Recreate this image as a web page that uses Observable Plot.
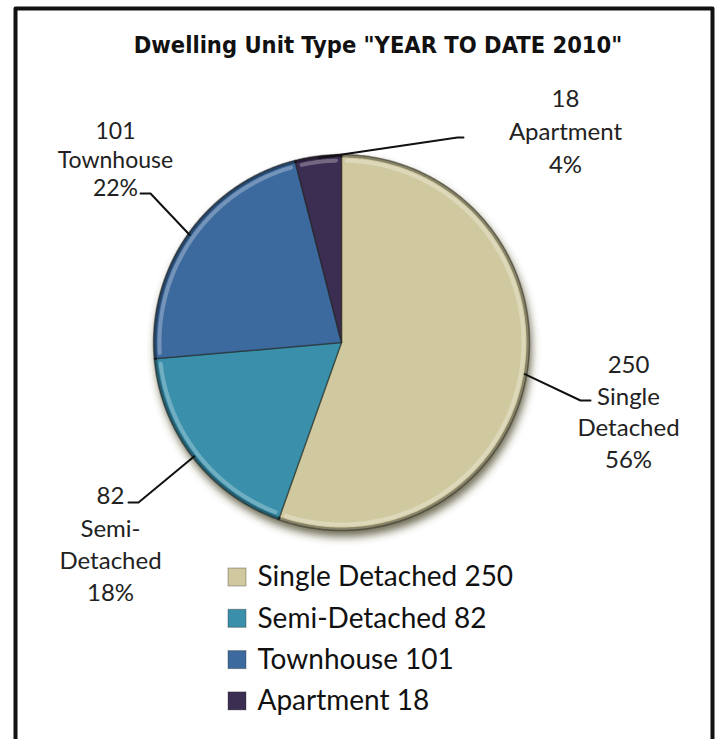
<!DOCTYPE html>
<html><head><meta charset="utf-8">
<script src="https://cdn.jsdelivr.net/npm/d3@7"></script>
<script src="https://cdn.jsdelivr.net/npm/@observablehq/plot@0.6"></script>
<style>
html,body{margin:0;padding:0;background:#fff;overflow:hidden}
#chart svg{display:block}
</style></head><body><div id="chart"></div>
<script>
// ---- data ----
const categories = ["Single Detached", "Semi-Detached", "Townhouse", "Apartment"];
const values = [250, 82, 101, 18];
const percentLabels = ["56%", "18%", "22%", "4%"];
const labelNames = [["Single", "Detached"], ["Semi-", "Detached"], ["Townhouse"], ["Apartment"]];
const colors = ["#d0c9a0", "#3a8faa", "#3d6a9e", "#3c2e53"];
const title = 'Dwelling Unit Type "YEAR TO DATE 2010"';

// ---- layout ----
const W = 719, H = 739;
const cx = 341, cy = 342, R = 188;
const labelLayout = {
  "Single Detached": {x: 628, y: 410, size: 24, lh: 1.32, elbow: [580, 400], end: [590, 400]},
  "Semi-Detached":   {x: 110, y: 542, size: 24, lh: 1.35, elbow: [138, 502], end: [128, 502]},
  "Townhouse":       {x: 115, y: 158, size: 23, lh: 1.24, elbow: [150, 193], end: [140, 193]},
  "Apartment":       {x: 565, y: 129, size: 24, lh: 1.375, elbow: [457, 137], end: [463, 137]}
};
const legendX = 228, legendY0 = 577, legendGap = 41.3, swatch = 18;

// ---- derived geometry ----
const table = categories.map((c, i) => ({cat: c, value: values[i], pct: percentLabels[i], name: labelNames[i]}));
const arcs = d3.pie().sort(null).value(d => d.value).startAngle(0).endAngle(2 * Math.PI)(table);
const pt = (a, r) => [cx + r * Math.sin(a), cy - r * Math.cos(a)];
const slicePts = [], rimPts = [], glowPts = [], leaderPts = [];
arcs.forEach(a => {
  const cat = a.data.cat;
  const n = Math.max(4, Math.ceil((a.endAngle - a.startAngle) / 0.01));
  slicePts.push({cat, x: cx, y: cy});
  for (let k = 0; k <= n; k++) {
    const t = a.startAngle + (a.endAngle - a.startAngle) * k / n;
    const [x, y] = pt(t, R);
    slicePts.push({cat, x, y});
    const [x2, y2] = pt(t, R - 1.5);
    rimPts.push({cat, x: x2, y: y2});
  }
  slicePts.push({cat, x: cx, y: cy});
  const m = 0.03;
  for (let k = 0; k <= n; k++) {
    const t = a.startAngle + m + (a.endAngle - a.startAngle - 2 * m) * k / n;
    const [x, y] = pt(t, R - 6);
    glowPts.push({cat, x, y});
  }
  const mid = (a.startAngle + a.endAngle) / 2;
  const L = labelLayout[cat];
  const [sx, sy] = pt(mid, R - 2);
  leaderPts.push({cat, x: sx, y: sy}, {cat, x: L.elbow[0], y: L.elbow[1]}, {cat, x: L.end[0], y: L.end[1]});
});

const labelFont = "Lato, Carlito, 'Open Sans', sans-serif";

const marks = [
  // outer frame (bottom edge runs off the picture)
  Plot.line([[15, H + 20], [15, 8], [712, 8], [712, H + 20]], {x: d => d[0], y: d => d[1], stroke: "#111", strokeWidth: 4}),
  Plot.text([title], {x: W / 2 + 18, y: 45, text: d => d, fontSize: 23.5, fontWeight: "bold",
    fontFamily: "'Liberation Sans Narrow', 'Arial Narrow', 'DejaVu Sans Condensed', sans-serif", fill: "#111"}),
  // shadow under the pie
  Plot.dot([0], {x: () => cx + 2, y: () => cy + 6, r: R, fill: "#3f3a18", fillOpacity: 0.75}),
  // slices
  Plot.line(slicePts, {x: "x", y: "y", z: "cat", fill: "cat", stroke: "#1c1a10", strokeOpacity: 0.45, strokeWidth: 1.5, strokeLinejoin: "round"}),
  Plot.line(rimPts, {x: "x", y: "y", z: "cat", stroke: "#000", strokeOpacity: 0.35, strokeWidth: 3}),
  Plot.line(glowPts, {x: "x", y: "y", z: "cat", stroke: "#fff", strokeOpacity: 0.28, strokeWidth: 4}),
  // leader lines
  Plot.line(leaderPts, {x: "x", y: "y", z: "cat", stroke: "#111", strokeWidth: 2}),
  // data labels
  ...table.map(d => {
    const L = labelLayout[d.cat];
    return Plot.text([d], {x: () => L.x, y: () => L.y, text: t => [String(t.value), ...t.name, t.pct].join("\n"),
      fontSize: L.size, lineHeight: L.lh, lineAnchor: "middle", textAnchor: "middle", fill: "#222", fontFamily: labelFont});
  }),
  // legend
  Plot.rect(table, {x1: () => legendX, x2: () => legendX + swatch,
    y1: (d, i) => legendY0 + i * legendGap - swatch / 2, y2: (d, i) => legendY0 + i * legendGap + swatch / 2,
    fill: "cat", stroke: "#222", strokeOpacity: 0.35, strokeWidth: 1}),
  Plot.text(table, {x: () => legendX + swatch + 11, y: (d, i) => legendY0 + i * legendGap, text: d => `${d.cat} ${d.value}`,
    textAnchor: "start", lineAnchor: "middle", fontSize: 28, fill: "#111", fontFamily: labelFont})
];

const chart = Plot.plot({
  width: W, height: H, margin: 0,
  x: {domain: [0, W], range: [0, W], axis: null},
  y: {domain: [0, H], range: [0, H], axis: null},
  color: {domain: categories, range: colors},
  style: {background: "white", overflow: "hidden"},
  marks
});

// soft blur for the pie's shadow
const svg = d3.select(chart);
const defs = svg.insert("defs", ":first-child");
defs.append("filter").attr("id", "pieShadow").attr("x", "-20%").attr("y", "-20%").attr("width", "140%").attr("height", "140%")
  .append("feGaussianBlur").attr("stdDeviation", 4);
svg.select('g[aria-label="dot"]').attr("filter", "url(#pieShadow)");
document.getElementById("chart").appendChild(chart);
</script>
</body></html>
